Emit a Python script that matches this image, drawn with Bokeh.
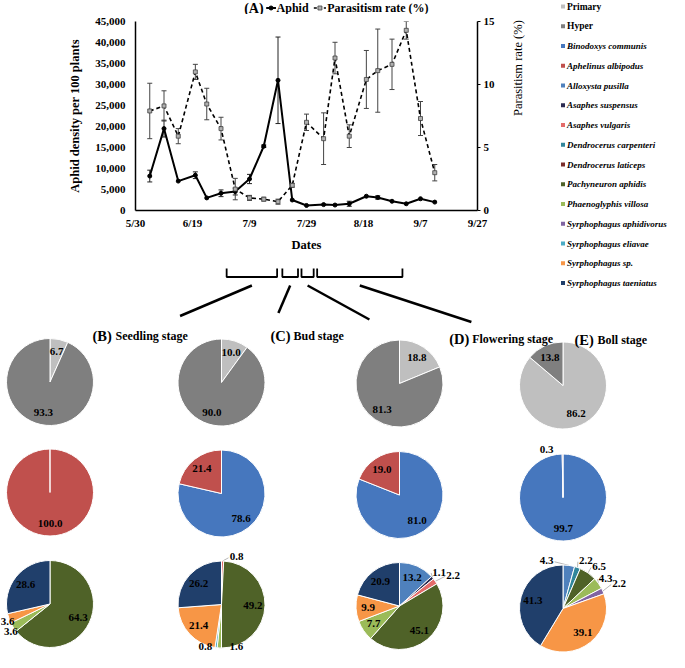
import math
import numpy as np
import pandas as pd
from bokeh.plotting import figure
from bokeh.models import (Range1d, LinearAxis, FixedTicker, SingleIntervalTicker,
                          NumeralTickFormatter, Whisker, TeeHead, ColumnDataSource)
from bokeh.layouts import column, row
from bokeh.embed import file_html
from bokeh.resources import INLINE
from bokeh.core.properties import value

FONT = "Liberation Serif"
YEAR = 2019

# ---------------- data: panel A ----------------
sample_dates = ["6/4", "6/9", "6/14", "6/20", "6/24", "6/29", "7/4", "7/9", "7/14", "7/19", "7/24",
                "7/29", "8/4", "8/8", "8/13", "8/19", "8/23", "8/28", "9/2", "9/7", "9/12"]
aphid_density = [8200, 19500, 7000, 8400, 3000, 4100, 4500, 7500, 15300, 31000, 2500,
                 1200, 1400, 1300, 1600, 3400, 3100, 2200, 1600, 2800, 2000]
aphid_se = [1400, 2000, 0, 800, 0, 800, 800, 1100, 300, 10300, 0,
            0, 0, 0, 600, 0, 400, 0, 0, 0, 0]
parasitism_rate = [7.9, 8.3, 5.9, 11.0, 8.45, 6.5, 1.7, 1.0, 0.9, 0.7, 2.0,
                   7.0, 5.7, 12.1, 5.9, 10.4, 11.1, 11.6, 14.3, 7.3, 3.0]
parasitism_se = [2.2, 1.2, 0.6, 0.6, 1.25, 0.9, 0.85, 0.2, 0.15, 0.2, 0.15,
                 0.65, 2.05, 1.25, 0.9, 2.3, 3.3, 2.0, 0.7, 1.35, 0.65]
date_tick_labels = ["5/30", "6/19", "7/9", "7/29", "8/18", "9/7", "9/27"]
aphid_ticks_max = 45000
rate_ticks = [0, 5, 10, 15]
series_labels = ["Aphid", "Parasitism rate (%)"]

stage_letters = ["(B)", "(C)", "(D)", "(E)"]
stage_names = ["Seedling stage", "Bud stage", "Flowering stage", "Boll stage"]
stage_spans = [("6/4", "7/3"), ("7/6", "7/15"), ("7/17", "7/24"), ("7/26", "9/13")]

# ---------------- data: pies (B-E) ----------------
guild_names = ["Primary", "Hyper"]
guild_primary = [6.7, 10.0, 18.8, 86.2]
guild_hyper = [93.3, 90.0, 81.3, 13.8]

primary_species = ["Binodoxys communis", "Aphelinus albipodus"]
binodoxys_communis = [0.0, 78.6, 81.0, 99.7]
aphelinus_albipodus = [100.0, 21.4, 19.0, 0.3]

hyper_species = ["Alloxysta pusilla", "Asaphes suspensus", "Asaphes vulgaris",
                 "Dendrocerus carpenteri", "Dendrocerus laticeps", "Pachyneuron aphidis",
                 "Phaenoglyphis villosa", "Syrphophagus aphidivorus", "Syrphophagus eliavae",
                 "Syrphophagus sp.", "Syrphophagus taeniatus"]
alloxysta_pusilla = [0.0, 0.0, 13.2, 4.3]
asaphes_suspensus = [0.0, 0.0, 1.1, 0.0]
asaphes_vulgaris = [0.0, 0.8, 2.2, 0.0]
dendrocerus_carpenteri = [0.0, 0.0, 0.0, 2.2]
dendrocerus_laticeps = [0.0, 0.0, 0.0, 0.0]
pachyneuron_aphidis = [64.3, 49.2, 45.1, 6.5]
phaenoglyphis_villosa = [3.6, 1.6, 7.7, 4.3]
syrphophagus_aphidivorus = [0.0, 0.0, 0.0, 2.2]
syrphophagus_eliavae = [0.0, 0.8, 0.0, 0.0]
syrphophagus_sp = [3.6, 21.4, 9.9, 39.1]
syrphophagus_taeniatus = [28.6, 26.2, 20.9, 41.3]

# ---------------- styles ----------------
COLORS = {
    "Primary": "#BFBFBF", "Hyper": "#7F7F7F",
    "Binodoxys communis": "#4677BE", "Aphelinus albipodus": "#C0504D",
    "Alloxysta pusilla": "#4F81BD", "Asaphes suspensus": "#2B2B52",
    "Asaphes vulgaris": "#E46C6A", "Dendrocerus carpenteri": "#31869B",
    "Dendrocerus laticeps": "#7B2C2A", "Pachyneuron aphidis": "#4F6228",
    "Phaenoglyphis villosa": "#9BBB59", "Syrphophagus aphidivorus": "#8064A2",
    "Syrphophagus eliavae": "#4BACC6", "Syrphophagus sp.": "#F79646",
    "Syrphophagus taeniatus": "#203F6B",
}
APHID_STYLE = dict(line_color="black", line_width=2)
APHID_MARK = dict(marker="circle", size=4, fill_color="black", line_color="black")
RATE_STYLE = dict(line_color="black", line_width=1.6, line_dash="4 3")
RATE_MARK = dict(marker="square", size=4, fill_color="#b0b0b0", line_color="#404040", line_width=0.8)

# ---------------- layout constants ----------------
TOTAL_W = 669
LEFT_W = 560
HEAD_H = 14
LINE_H = 240
BRK_H = 73
LEG_W = TOTAL_W - LEFT_W
LEG_H = HEAD_H + LINE_H + BRK_H
PIE_H = 652 - LEG_H
FRAME_L, FRAME_R = 135, 477
FRAME_T, FRAME_B = 7, 200     # inside the line figure


def day_of(s):
    return (pd.Timestamp(f"{YEAR}/{s}") - pd.Timestamp(f"{YEAR}/{date_tick_labels[0]}")).days


days = [day_of(d) for d in sample_dates]
tick_days = [day_of(d) for d in date_tick_labels]
PX_PER_DAY = (FRAME_R - FRAME_L) / (tick_days[-1] - tick_days[0])

# ---------------- panel A header (title + key) ----------------
ph = figure(width=LEFT_W, height=HEAD_H, x_range=Range1d(0, LEFT_W), y_range=Range1d(HEAD_H, 0),
            output_backend="svg", toolbar_location=None, x_axis_type=None, y_axis_type=None,
            min_border=0, outline_line_color=None)
KY = 7.5
KEY_X = [214, 292]          # start of each key sample
KEY_LEN = [16, 20]
ph.line(x=[KEY_X[0], KEY_X[0] + KEY_LEN[0]], y=[KY, KY], **APHID_STYLE)
ph.scatter(x=[KEY_X[0] + KEY_LEN[0] / 2], y=[KY], **APHID_MARK)
ph.line(x=[KEY_X[1], KEY_X[1] + KEY_LEN[1]], y=[KY, KY], line_color="black", line_width=1.6,
        line_dash="3 2")
ph.scatter(x=[KEY_X[1] + KEY_LEN[1] / 2], y=[KY], **RATE_MARK)
ph.text(x=[KEY_X[0] + KEY_LEN[0] + 1, KEY_X[1] + KEY_LEN[1] + 2], y=[KY, KY], text=series_labels,
        text_font=value(FONT), text_font_size="12px", text_font_style="bold",
        text_baseline="middle", text_align="left", text_color="black")
ph.text(x=[178], y=[KY], text=["(A)"], text_font=value(FONT), text_font_size="14px",
        text_font_style="bold", text_baseline="middle", text_align="left", text_color="black")

# ---------------- panel A ----------------
p = figure(width=LEFT_W, height=LINE_H,
           x_range=Range1d(tick_days[0], tick_days[-1]),
           y_range=Range1d(0, aphid_ticks_max),
           output_backend="svg", toolbar_location=None,
           min_border_left=FRAME_L, min_border_right=LEFT_W - FRAME_R,
           min_border_top=FRAME_T, min_border_bottom=LINE_H - FRAME_B)
p.extra_y_ranges = {"rate": Range1d(0, rate_ticks[-1])}
p.grid.visible = False
p.outline_line_color = None
p.background_fill_color = "white"

src = ColumnDataSource(dict(x=days, aphid=aphid_density, rate=parasitism_rate))

ia = [i for i, e in enumerate(aphid_se) if e > 0]
wa = ColumnDataSource(dict(x=[days[i] for i in ia],
                           up=[aphid_density[i] + aphid_se[i] for i in ia],
                           lo=[aphid_density[i] - aphid_se[i] for i in ia]))
ir = [i for i, e in enumerate(parasitism_se) if e > 0]
wr = ColumnDataSource(dict(x=[days[i] for i in ir],
                           up=[parasitism_rate[i] + parasitism_se[i] for i in ir],
                           lo=[parasitism_rate[i] - parasitism_se[i] for i in ir]))
p.add_layout(Whisker(source=wa, base="x", upper="up", lower="lo", line_color="#222222", line_width=1,
                     upper_head=TeeHead(size=5, line_color="#222222", line_width=1),
                     lower_head=TeeHead(size=5, line_color="#222222", line_width=1)))
p.add_layout(Whisker(source=wr, base="x", upper="up", lower="lo", y_range_name="rate",
                     line_color="#444444", line_width=1,
                     upper_head=TeeHead(size=5, line_color="#444444", line_width=1),
                     lower_head=TeeHead(size=5, line_color="#444444", line_width=1)))

p.line("x", "aphid", source=src, **APHID_STYLE)
p.scatter("x", "aphid", source=src, **APHID_MARK)
p.line("x", "rate", source=src, y_range_name="rate", **RATE_STYLE)
p.scatter("x", "rate", source=src, y_range_name="rate", **RATE_MARK)

xa = p.xaxis[0]
xa.ticker = FixedTicker(ticks=tick_days)
xa.major_label_overrides = {d: lab for d, lab in zip(tick_days, date_tick_labels)}
xa.axis_label = "Dates"
ya = p.yaxis[0]
ya.ticker = SingleIntervalTicker(interval=5000)
ya.formatter = NumeralTickFormatter(format="0,0")
ya.axis_label = "Aphid density per 100 plants"
ra = LinearAxis(y_range_name="rate", ticker=FixedTicker(ticks=rate_ticks),
                axis_label="Parasitism rate (%)")
p.add_layout(ra, "right")

for ax in (xa, ya, ra):
    ax.axis_line_color = "black"
    ax.axis_line_width = 1.5
    ax.major_tick_in = 0
    ax.major_tick_out = 0
    ax.minor_tick_line_color = None
    ax.major_label_text_font = FONT
    ax.major_label_text_font_size = "11px"
    ax.major_label_text_font_style = "bold"
    ax.major_label_text_color = "black"
    ax.axis_label_text_font = FONT
    ax.axis_label_text_font_size = "12.5px"
    ax.axis_label_text_font_style = "bold"
    ax.axis_label_text_color = "black"
xa.major_label_standoff = 6
xa.axis_label_standoff = 6
ya.major_label_standoff = 6
ya.axis_label_standoff = 10
ra.major_tick_out = 3
ra.major_tick_line_color = "black"
ra.major_label_standoff = 3
ra.axis_label_standoff = 20
ra.axis_label_text_font_style = "normal"
ra.axis_label_orientation = math.pi / 2

# ---------------- brackets + connectors ----------------
pb = figure(width=LEFT_W, height=BRK_H,
            x_range=Range1d(-FRAME_L / PX_PER_DAY, (LEFT_W - FRAME_L) / PX_PER_DAY),
            y_range=Range1d(BRK_H, 0), output_backend="svg", toolbar_location=None,
            x_axis_type=None, y_axis_type=None, min_border=0, outline_line_color=None)
BR_TOP, BR_BOT, CON_TOP = 14.0, 22.5, 31.0
CON_END_PX = [73, 234, 383, 550]     # figure px of connector lower ends
CON_END_Y = [61.5, 58.5, 65, 67.5]
bxs, bys, cxs, cys = [], [], [], []
for k, (d0s, d1s) in enumerate(stage_spans):
    d0, d1 = day_of(d0s), day_of(d1s)
    bxs.append([d0, d0, d1, d1])
    bys.append([BR_TOP, BR_BOT, BR_BOT, BR_TOP])
    cxs.append([(d0 + d1) / 2, (CON_END_PX[k] - FRAME_L) / PX_PER_DAY])
    cys.append([CON_TOP, CON_END_Y[k]])
pb.multi_line(xs=bxs, ys=bys, line_color="black", line_width=1.8)
pb.multi_line(xs=cxs, ys=cys, line_color="black", line_width=2.5)

# ---------------- species legend ----------------
legend_names = guild_names + primary_species + hyper_species
pl = figure(width=LEG_W, height=LEG_H, x_range=Range1d(0, LEG_W), y_range=Range1d(LEG_H, 0),
            output_backend="svg", toolbar_location=None, x_axis_type=None, y_axis_type=None,
            min_border=0, outline_line_color=None)
LEG_Y0, LEG_DY, LEG_MX, LEG_TX = 6.0, 19.75, 2.5, 6.5
ly = [LEG_Y0 + LEG_DY * i for i in range(len(legend_names))]
pl.scatter(x=[LEG_MX] * len(legend_names), y=ly, marker="square", size=4,
           fill_color=[COLORS[n] for n in legend_names], line_color=None)
ng = len(guild_names)
pl.text(x=[LEG_TX] * ng, y=ly[:ng], text=legend_names[:ng], text_font=value(FONT),
        text_font_size="9.5px", text_font_style="bold", text_baseline="middle", text_color="black")
pl.text(x=[LEG_TX] * (len(legend_names) - ng), y=ly[ng:], text=legend_names[ng:],
        text_font=value(FONT), text_font_size="9px", text_font_style="bold italic",
        text_baseline="middle", text_color="black")

# ---------------- pies ----------------
PIE_TOP = 8 + LEG_H
pp = figure(width=TOTAL_W, height=PIE_H, x_range=Range1d(8, 8 + TOTAL_W),
            y_range=Range1d(PIE_TOP + PIE_H, PIE_TOP), output_backend="svg",
            toolbar_location=None, x_axis_type=None, y_axis_type=None, min_border=0,
            outline_line_color=None)
PIE_CX = [57.5, 229, 407, 570.5]
PIE_CY = [[389.5, 390, 391, 393], [500, 501, 502.5, 505], [611.5, 612, 613.5, 616]]
PIE_R = 43.5
OUTSIDE_BELOW = 6.6
LABEL_NUDGE = {
    (1, 3, "Aphelinus albipodus"): (-16, 4.5),
    (2, 0, "Phaenoglyphis villosa"): (5, 0),
    (2, 0, "Syrphophagus sp."): (7, 0),
    (2, 1, "Asaphes vulgaris"): (13.7, 4.5),
    (2, 1, "Phaenoglyphis villosa"): (17.6, -10.5),
    (2, 1, "Syrphophagus eliavae"): (-9.5, -10.0),
    (2, 2, "Asaphes vulgaris"): (10.7, -1),
    (2, 3, "Alloxysta pusilla"): (-23.5, 4),
    (2, 3, "Dendrocerus carpenteri"): (5.5, 1.5),
    (2, 3, "Pachyneuron aphidis"): (6, 0.7),
    (2, 3, "Syrphophagus aphidivorus"): (8.4, -4),
}
LEADER_STAGES = {1, 2, 3}

pie_rows = [
    (guild_names, [guild_primary, guild_hyper]),
    (primary_species, [binodoxys_communis, aphelinus_albipodus]),
    (hyper_species, [alloxysta_pusilla, asaphes_suspensus, asaphes_vulgaris,
                     dendrocerus_carpenteri, dendrocerus_laticeps, pachyneuron_aphidis,
                     phaenoglyphis_villosa, syrphophagus_aphidivorus, syrphophagus_eliavae,
                     syrphophagus_sp, syrphophagus_taeniatus]),
]

wd = dict(x=[], y=[], start=[], end=[], color=[])
lb = dict(x=[], y=[], text=[])
ld = dict(xs=[], ys=[])
for ri, (names, series) in enumerate(pie_rows):
    for si in range(4):
        vals = [s[si] for s in series]
        total = sum(vals)
        cx, cy = PIE_CX[si], PIE_CY[ri][si]
        acc = 0.0
        for name, v in zip(names, vals):
            if v <= 0:
                continue
            a0 = acc
            a1 = acc + min(v / total * 360.0, 359.95)
            acc = a1
            wd["x"].append(cx)
            wd["y"].append(cy)
            wd["start"].append(math.radians(90 - a1))
            wd["end"].append(math.radians(90 - a0))
            wd["color"].append(COLORS[name])
            m = math.radians((a0 + a1) / 2)
            outside = v < OUTSIDE_BELOW
            f = 1.2 if outside else 0.72
            dx, dy = LABEL_NUDGE.get((ri, si, name), (0, 0))
            lx = cx + PIE_R * f * math.sin(m) + dx
            lyy = cy - PIE_R * f * math.cos(m) + dy
            lb["x"].append(lx)
            lb["y"].append(lyy)
            lb["text"].append(f"{v:.1f}")
            if outside and ri == 2 and si in LEADER_STAGES:
                px0 = cx + PIE_R * math.sin(m)
                py0 = cy - PIE_R * math.cos(m)
                ex = lx - 8 * np.sign(lx - cx)
                ld["xs"].append([px0, ex])
                ld["ys"].append([py0, lyy + 1])

pp.multi_line(xs=ld["xs"], ys=ld["ys"], line_color="#A6A6A6", line_width=0.8)
pp.wedge(x="x", y="y", radius=PIE_R, start_angle="start", end_angle="end",
         fill_color="color", line_color="white", line_width=1, source=ColumnDataSource(wd))
pp.text(x="x", y="y", text="text", source=ColumnDataSource(lb), text_font=value(FONT),
        text_font_size="11px", text_font_style="bold", text_align="center",
        text_baseline="middle", text_color="black")

TITLE_X = [100, 278, 456.7, 582]
TITLE_Y = [343, 343, 346, 347]
NAME_GAP = 23
pp.text(x=TITLE_X, y=TITLE_Y, text=stage_letters, text_font=value(FONT), text_font_size="14.5px",
        text_font_style="bold", text_baseline="middle", text_align="left", text_color="black")
pp.text(x=[x + NAME_GAP for x in TITLE_X], y=TITLE_Y, text=stage_names, text_font=value(FONT),
        text_font_size="12px", text_font_style="bold", text_baseline="middle", text_align="left",
        text_color="black")

layout = column(row(column(ph, p, pb, spacing=0), pl, spacing=0), pp, spacing=0)
open("out.html", "w").write(file_html(layout, INLINE))
